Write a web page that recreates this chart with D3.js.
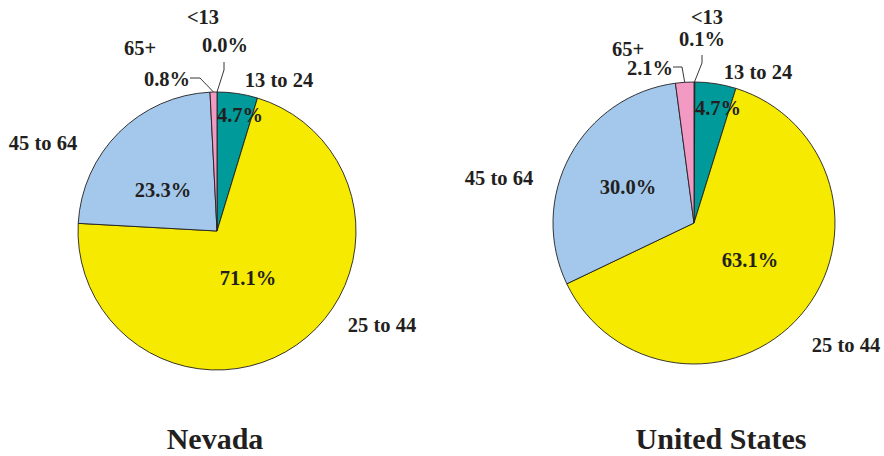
<!DOCTYPE html>
<html>
<head>
<meta charset="utf-8">
<script src="https://cdn.jsdelivr.net/npm/d3@7"></script>
<style>
  html, body { margin: 0; padding: 0; background: #fff; }
  svg text { font-family: "Liberation Serif", "Times New Roman", serif; font-weight: bold; fill: #231f20; }
</style>
</head>
<body>
<svg id="chart" width="884" height="456"></svg>
<script>
// Age groups, in clockwise order from 12 o'clock
const categories = ["<13", "13 to 24", "25 to 44", "45 to 64", "65+"];
const nevadaValues = [0.0, 4.7, 71.1, 23.3, 0.8];
const usValues = [0.1, 4.7, 63.1, 30.0, 2.1];
const chartTitles = ["Nevada", "United States"];
const sliceColors = ["#f299c4", "#009a9a", "#f5ea00", "#a3c8ec", "#f299c4"];

// Placement of each pie and its labels (absolute page coordinates)
const layouts = [
  {
    cx: 217, cy: 231, r: 139, titleX: 215,
    name: [[203, 24], [279, 87], [382, 332], [43, 150], [140, 55]],
    pct:  [[225, 52], [240, 122], [248, 285], [163, 197], [167, 86]],
    // leader lines for the thin slices: elbow and end points
    leaders: { 0: [[224, 70], [224, 62]], 4: [[200, 78], [190, 78]] }
  },
  {
    cx: 694, cy: 223, r: 141, titleX: 721,
    name: [[707, 24], [758, 79], [846, 352], [499, 185], [628, 56]],
    pct:  [[702, 46], [718, 115], [750, 267], [628, 194], [650, 75]],
    leaders: { 0: [[702, 63], [702, 55]], 4: [[682, 67], [673, 67]] }
  }
];

const svg = d3.select("#chart");
const color = d3.scaleOrdinal().domain(d3.range(categories.length)).range(sliceColors);
const pie = d3.pie().sort(null).value(d => d.value);

[nevadaValues, usValues].forEach((values, ci) => {
  const L = layouts[ci];
  const data = categories.map((c, i) => ({ cat: c, value: values[i], idx: i }));
  const arcs = pie(data);
  const arc = d3.arc().innerRadius(0).outerRadius(L.r);

  const g = svg.append("g").attr("transform", `translate(${L.cx},${L.cy})`);
  g.selectAll("path.slice")
    .data(arcs)
    .join("path")
    .attr("class", "slice")
    .attr("d", arc)
    .attr("fill", d => color(d.data.idx))
    .attr("stroke", "#231f20")
    .attr("stroke-width", 0.9)
    .attr("stroke-linejoin", "round");

  // Leader lines from the rim of the thin slices to their labels
  Object.keys(L.leaders).forEach(k => {
    const a = arcs[+k];
    const mid = (a.startAngle + a.endAngle) / 2;
    const start = [L.cx + Math.sin(mid) * L.r, L.cy - Math.cos(mid) * L.r];
    const pts = [start].concat(L.leaders[k]);
    svg.append("path")
      .attr("d", d3.line()(pts))
      .attr("fill", "none")
      .attr("stroke", "#231f20")
      .attr("stroke-width", 0.9);
  });

  // Category names
  svg.append("g").selectAll("text")
    .data(arcs)
    .join("text")
    .attr("x", d => L.name[d.data.idx][0])
    .attr("y", d => L.name[d.data.idx][1])
    .attr("text-anchor", "middle")
    .attr("font-size", 20.5)
    .text(d => d.data.cat);

  // Percentages
  svg.append("g").selectAll("text")
    .data(arcs)
    .join("text")
    .attr("x", d => L.pct[d.data.idx][0])
    .attr("y", d => L.pct[d.data.idx][1])
    .attr("text-anchor", "middle")
    .attr("font-size", 20.5)
    .text(d => d3.format(".1f")(d.data.value) + "%");

  svg.append("text")
    .attr("x", L.titleX)
    .attr("y", 449)
    .attr("text-anchor", "middle")
    .attr("font-size", 30)
    .text(chartTitles[ci]);
});
</script>
</body>
</html>
